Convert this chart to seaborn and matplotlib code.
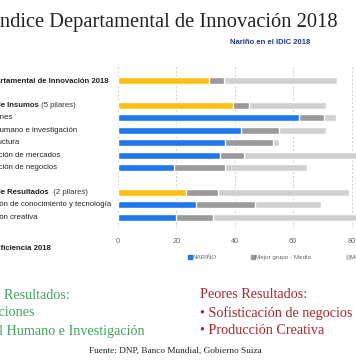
import numpy as np
import pandas as pd
import matplotlib
matplotlib.use("Agg")
import matplotlib.pyplot as plt
import matplotlib.transforms as mtransforms
from matplotlib.lines import Line2D
import seaborn as sns

# ---------------- data ----------------
categorias = [
    "Índice Departamental de Innovación 2018",
    "Subíndice de Insumos",
    "Instituciones",
    "Capital humano e investigación",
    "Infraestructura",
    "Sofisticación de mercados",
    "Sofisticación de negocios",
    "Subíndice de Resultados",
    "Producción de conocimiento y tecnología",
    "Producción creativa",
]
nivel = ["indice", "subindice", "pilar", "pilar", "pilar", "pilar", "pilar",
         "subindice", "pilar", "pilar"]
sufijos = {"Subíndice de Insumos": " (5 pilares)",
           "Subíndice de Resultados": "  (2 pilares)"}
narino = [31.3, 39.3, 62.0, 42.0, 36.8, 34.9, 19.3, 23.3, 26.7, 19.9]
mejor_medio = [5.0, 5.7, 8.5, 13.1, 16.4, 8.4, 17.3, 11.1, 20.2, 12.5]
resto = [38.8, 26.1, 4.0, 16.0, 2.0, 46.7, 28.0, 44.8, 22.7, 55.6]
orden = [categorias[0], " ", *categorias[1:7], "  ", *categorias[7:]]
xticks = [0, 20, 40, 60, 80, 100]
leyenda = ["NARIÑO", "Mejor grupo - Medio", "Mejor grupo - Máximo"]

titulo = "Índice Departamental de Innovación 2018"
subtitulo = "Nariño en el IDIC 2018"
eficiencia = "Índice de Eficiencia 2018"
mejores = ["Mejores Resultados:", "• Instituciones", "• Capital Humano e Investigación"]
peores = ["Peores Resultados:", "• Sofisticación de negocios", "• Producción Creativa"]
fuente = "Fuente: DNP, Banco Mundial, Gobierno Suiza"

# ---------------- style ----------------
AMARILLO = "#fcbf12"
AZUL = "#1f78ee"
GRIS_OSC = "#9a9a9a"
GRIS_CLARO = "#d0d0d0"

sns.set_theme(style="white")
plt.rcParams["font.family"] = ["Liberation Sans", "DejaVu Sans"]
SERIF = ["Liberation Serif", "DejaVu Serif"]

W, H = 356, 364
fig = plt.figure(figsize=(W / 100, H / 100), dpi=100)
ax = fig.add_axes([118 / W, 1 - 228 / H, 292 / W, 163 / H])

df = pd.DataFrame({"categoria": categorias, "nivel": nivel, "narino": narino,
                   "mejor_medio": mejor_medio, "resto": resto})
df["medio_fin"] = df["narino"] + df["mejor_medio"]
df["total"] = df["medio_fin"] + df["resto"]

bw = 0.56
sns.barplot(data=df, x="total", y="categoria", order=orden, color=GRIS_CLARO,
            width=bw, errorbar=None, orient="h", ax=ax, saturation=1)
sns.barplot(data=df, x="medio_fin", y="categoria", order=orden, color=GRIS_OSC,
            width=bw, errorbar=None, orient="h", ax=ax, saturation=1)
sns.barplot(data=df, x="narino", y="categoria", order=orden, hue="nivel",
            palette={"indice": AMARILLO, "subindice": AMARILLO, "pilar": AZUL},
            dodge=False, legend=False, width=bw, errorbar=None, orient="h",
            ax=ax, saturation=1)

ax.set_xlim(0, 100)
ax.set_ylim(11.88, -1.27)
ax.set_xticks(xticks)
ax.set_xticklabels([str(t) for t in xticks], fontsize=5.3, color="#666666")
ax.tick_params(axis="x", length=0, pad=7.5)
ax.set_yticks([])
ax.set_xlabel("")
ax.set_ylabel("")
for s in ax.spines.values():
    s.set_visible(False)
ax.grid(axis="x", color="#cfcfcf", linestyle=(0, (2, 2)), linewidth=0.7)
ax.set_axisbelow(True)

# row labels
FS = 5.6
trans = mtransforms.blended_transform_factory(fig.transFigure, ax.transData)
for i, cat in enumerate(orden):
    if cat.strip() == "":
        continue
    niv = nivel[categorias.index(cat)]
    if niv == "pilar":
        ax.text(-31 / W, i, cat, transform=trans, ha="left", va="center",
                fontsize=FS, color="#222222", clip_on=False)
    else:
        t = ax.text(-43 / W, i, cat, transform=trans, ha="left", va="center",
                    fontsize=FS, fontweight="bold", color="#222222", clip_on=False)
        if cat in sufijos:
            ax.annotate(sufijos[cat], xy=(1, 0), xycoords=t, ha="left", va="bottom",
                        fontsize=FS, color="#333333", annotation_clip=False)
ax.text(-40 / W, 13.5, eficiencia, transform=trans, ha="left", va="center",
        fontsize=FS, fontweight="bold", color="#222222", clip_on=False)

# legend
handles = [Line2D([], [], marker="s", linestyle="", markersize=2.8, color=c)
           for c in (AZUL, GRIS_OSC, GRIS_CLARO)]
fig.legend(handles, leyenda, loc="center left", bbox_to_anchor=(188 / W, 1 - 257 / H),
           ncol=3, frameon=False, fontsize=4.5, handlelength=0.55, handletextpad=0.1,
           columnspacing=5.6, borderpad=0, borderaxespad=0, labelcolor="#666666")

# titles
fig.text(-7 / W, 1 - 21 / H, titulo, family=SERIF, fontsize=14.8, ha="left",
         va="center", color="#222222")
fig.text(270 / W, 1 - 43 / H, subtitulo, fontsize=5.5, fontweight="bold",
         ha="center", va="center", color="#1f3a8a")

# bottom notes
for k, linea in enumerate(mejores):
    fig.text(-46 / W, 1 - (295 + 18 * k) / H, linea, family=SERIF, fontsize=10.2,
             ha="left", va="center", color="#3fa55a")
for k, linea in enumerate(peores):
    fig.text(200 / W, 1 - (295 + 18 * k) / H, linea, family=SERIF, fontsize=10.2,
             ha="left", va="center", color="#a8272c")
fig.text(175 / W, 1 - 351 / H, fuente, family=SERIF, fontsize=6.7, ha="center",
         va="center", color="#222222")

fig.savefig("out.png", dpi=100)
